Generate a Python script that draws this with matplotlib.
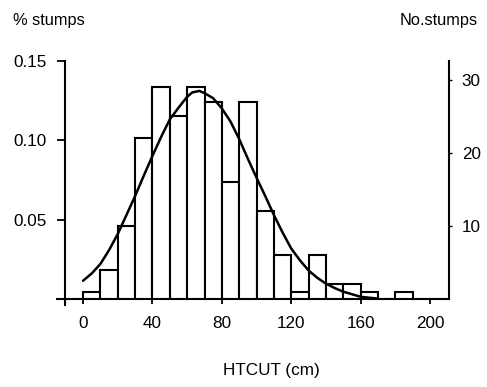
import matplotlib
matplotlib.use("Agg")
import matplotlib.pyplot as plt

plt.rcParams['font.family'] = ['Liberation Sans', 'DejaVu Sans']

# Histogram bins (HTCUT, cm) and counts (No. stumps)
bin_left = [0, 10, 20, 30, 40, 50, 60, 70, 80, 90, 100, 110, 120, 130, 140, 150, 160, 170, 180]
counts = [1, 4, 10, 22, 29, 25, 29, 27, 16, 27, 12, 6, 1, 6, 2, 2, 1, 0, 1]
bin_width = 10

# Fitted curve (No. stumps scale)
curve_x = [0, 5, 10, 15, 20, 25, 30, 35, 40, 45, 50, 55, 60, 63, 67, 70, 75, 80, 85,
           90, 95, 100, 105, 110, 115, 120, 125, 130, 135, 140, 145, 150, 160, 170]
curve_y = [2.5, 3.5, 4.8, 6.7, 8.9, 11.5, 14.1, 16.9, 19.6, 22.2, 24.6, 26.2, 27.7, 28.3, 28.5,
           28.2, 27.5, 26.1, 24.3, 21.9, 19.2, 16.6, 14.1, 11.5, 9.1, 6.9, 5.3, 3.9, 2.9, 2.1,
           1.5, 1.0, 0.3, 0.05]

x_ticks = [0, 40, 80, 120, 160, 200]
left_ticks = [0.05, 0.10, 0.15]
left_labels = ["0.05", "0.10", "0.15"]
right_ticks = [10, 20, 30]
right_labels = ["10", "20", "30"]

W, H = 487, 387
fig = plt.figure(figsize=(W / 100, H / 100), dpi=100)
ax = fig.add_axes([65 / W, (H - 299) / H, 384 / W, 238 / H])
ax2 = ax.twinx()

ax.set_xlim(-10.4, 210.9)
ax.set_ylim(0, 0.15)
ax2.set_ylim(0, 32.6)

ax2.bar(bin_left, counts, width=bin_width, align='edge', facecolor='white',
        edgecolor='black', linewidth=1.5)
ax2.plot(curve_x, curve_y, color='black', linewidth=1.8, solid_capstyle='round',
         solid_joinstyle='round')

fs = 12.3
ax.set_xticks(x_ticks)
ax.set_xticklabels([str(t) for t in x_ticks], fontsize=fs)
ax.set_yticks(left_ticks)
ax.set_yticklabels(left_labels, fontsize=fs)
ax2.set_yticks(right_ticks)
ax2.set_yticklabels(right_labels, fontsize=fs)

ax.tick_params(axis='x', direction='out', length=3.6, width=1.3, pad=8.5)
ax.tick_params(axis='y', direction='out', length=5.5, width=1.3, pad=7.5)
ax2.tick_params(axis='y', direction='out', length=2.2, width=1.0, pad=7)

for a in (ax, ax2):
    a.spines['top'].set_visible(False)
    for s in a.spines.values():
        s.set_linewidth(1.5)
ax2.spines['left'].set_visible(False)
ax2.spines['bottom'].set_visible(False)
ax.spines['right'].set_visible(False)
ax.spines['left'].set_bounds(-0.004, 0.15)
ax.spines['bottom'].set_bounds(-15, 211)
ax.spines['left'].set_clip_on(False)
ax.spines['bottom'].set_clip_on(False)

fig.text(13 / W, 1 - 20 / H, "% stumps", ha='left', va='center', fontsize=11.8)
fig.text(478 / W, 1 - 20 / H, "No.stumps", ha='right', va='center', fontsize=11.8)
fig.text(271 / W, 1 - 370 / H, "HTCUT (cm)", ha='center', va='center', fontsize=12.3)

fig.savefig("out.png", dpi=100)
